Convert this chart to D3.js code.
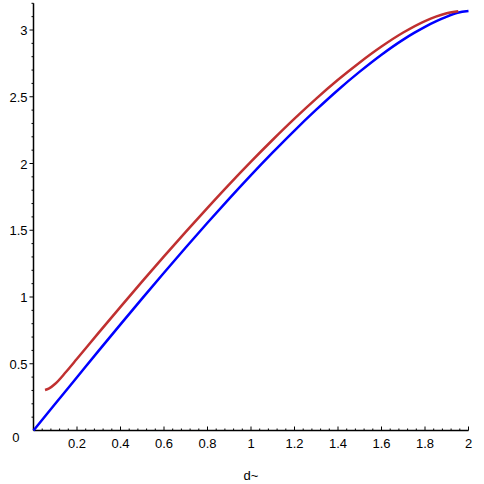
<!DOCTYPE html>
<html>
<head>
<meta charset="utf-8">
<script src="https://cdn.jsdelivr.net/npm/d3@7"></script>
<style>
  html, body { margin: 0; padding: 0; background: #fff; }
  svg { display: block; }
  text { font-family: "Liberation Sans", Arial, sans-serif; font-size: 13px; fill: #000; }
</style>
</head>
<body>
<svg id="chart" width="484" height="484"></svg>
<script>
// ---- data ----
const blueX = [0, 0.1, 0.2, 0.3, 0.4, 0.5, 0.6, 0.7, 0.8, 0.9, 1.0, 1.1, 1.2, 1.3, 1.4, 1.5, 1.6, 1.7, 1.75, 1.8, 1.85, 1.9, 1.95, 2.0];
const blueY = [0, 0.200, 0.399, 0.598, 0.795, 0.990, 1.182, 1.371, 1.556, 1.737, 1.913, 2.083, 2.247, 2.403, 2.551, 2.688, 2.815, 2.928, 2.978, 3.024, 3.064, 3.100, 3.129, 3.142];
const redX = [0.053, 0.07, 0.1, 0.15, 0.2, 0.3, 0.4, 0.5, 0.6, 0.7, 0.8, 0.9, 1.0, 1.1, 1.2, 1.3, 1.4, 1.5, 1.6, 1.7, 1.8, 1.85, 1.9, 1.953];
const redY = [0.303, 0.313, 0.350, 0.440, 0.537, 0.733, 0.926, 1.117, 1.304, 1.488, 1.668, 1.844, 2.014, 2.178, 2.336, 2.486, 2.627, 2.757, 2.876, 2.981, 3.067, 3.100, 3.125, 3.140];
const xMajorTicks = [0.2, 0.4, 0.6, 0.8, 1, 1.2, 1.4, 1.6, 1.8, 2];
const xTickLabels = ["0.2", "0.4", "0.6", "0.8", "1", "1.2", "1.4", "1.6", "1.8", "2"];
const yMajorTicks = [0.5, 1, 1.5, 2, 2.5, 3];
const yTickLabels = ["0.5", "1", "1.5", "2", "2.5", "3"];
const xTitle = "d~";
const originLabel = "0";

const svg = d3.select("#chart");
const x = d3.scaleLinear().domain([0, 2]).range([33.5, 468.5]);
const y = d3.scaleLinear().domain([0, 3.2]).range([430.5, 3.3]);

// minor tick positions
const xMinor = d3.range(0, 51).map(i => i * 0.04).filter(v => v <= 2.0001 && Math.abs(v / 0.2 - Math.round(v / 0.2)) > 1e-6);
const yMinor = d3.range(0, 33).map(i => i * 0.1).filter(v => Math.abs(v / 0.5 - Math.round(v / 0.5)) > 1e-6);

// X axis (ticks pointing up, into the plot)
const gx = svg.append("g").attr("transform", `translate(0,${y(0)})`);
gx.append("line").attr("x1", x(0)).attr("x2", x(2)).attr("y1", 0).attr("y2", 0)
  .attr("stroke", "#000").attr("stroke-width", 1.5);
gx.selectAll("line.maj").data(xMajorTicks).join("line").attr("class", "maj")
  .attr("x1", d => x(d)).attr("x2", d => x(d)).attr("y1", 0).attr("y2", -4)
  .attr("stroke", "#000").attr("stroke-width", 1);
gx.selectAll("line.min").data(xMinor).join("line").attr("class", "min")
  .attr("x1", d => x(d)).attr("x2", d => x(d)).attr("y1", 0).attr("y2", -2)
  .attr("stroke", "#000").attr("stroke-width", 1);
gx.selectAll("text").data(xMajorTicks).join("text")
  .attr("x", d => x(d)).attr("y", 17).attr("text-anchor", "middle")
  .text((d, i) => xTickLabels[i]);

// Y axis (ticks pointing left)
const gy = svg.append("g").attr("transform", `translate(${x(0)},0)`);
gy.append("line").attr("x1", 0).attr("x2", 0).attr("y1", y(0)).attr("y2", y(3.2))
  .attr("stroke", "#000").attr("stroke-width", 1.5);
gy.selectAll("line.maj").data(yMajorTicks).join("line").attr("class", "maj")
  .attr("x1", 0).attr("x2", -4).attr("y1", d => y(d)).attr("y2", d => y(d))
  .attr("stroke", "#000").attr("stroke-width", 1);
gy.selectAll("line.min").data(yMinor).join("line").attr("class", "min")
  .attr("x1", 0).attr("x2", -2).attr("y1", d => y(d)).attr("y2", d => y(d))
  .attr("stroke", "#000").attr("stroke-width", 1);
gy.selectAll("text").data(yMajorTicks).join("text")
  .attr("x", -6).attr("y", d => y(d) + 5).attr("text-anchor", "end")
  .text((d, i) => yTickLabels[i]);

// origin label
svg.append("text").attr("x", 19.5).attr("y", y(0) + 11).attr("text-anchor", "end").text(originLabel);

// axis title
svg.append("text").attr("x", x(1)).attr("y", 480).attr("text-anchor", "middle").text(xTitle);

// curves
const line = d3.line().x(d => x(d[0])).y(d => y(d[1])).curve(d3.curveMonotoneX);
svg.append("path").datum(blueX.map((v, i) => [v, blueY[i]]))
  .attr("d", line).attr("fill", "none").attr("stroke", "#0000ff").attr("stroke-width", 2.5);
svg.append("path").datum(redX.map((v, i) => [v, redY[i]]))
  .attr("d", line).attr("fill", "none").attr("stroke", "#c03030").attr("stroke-width", 2.5);
</script>
</body>
</html>
